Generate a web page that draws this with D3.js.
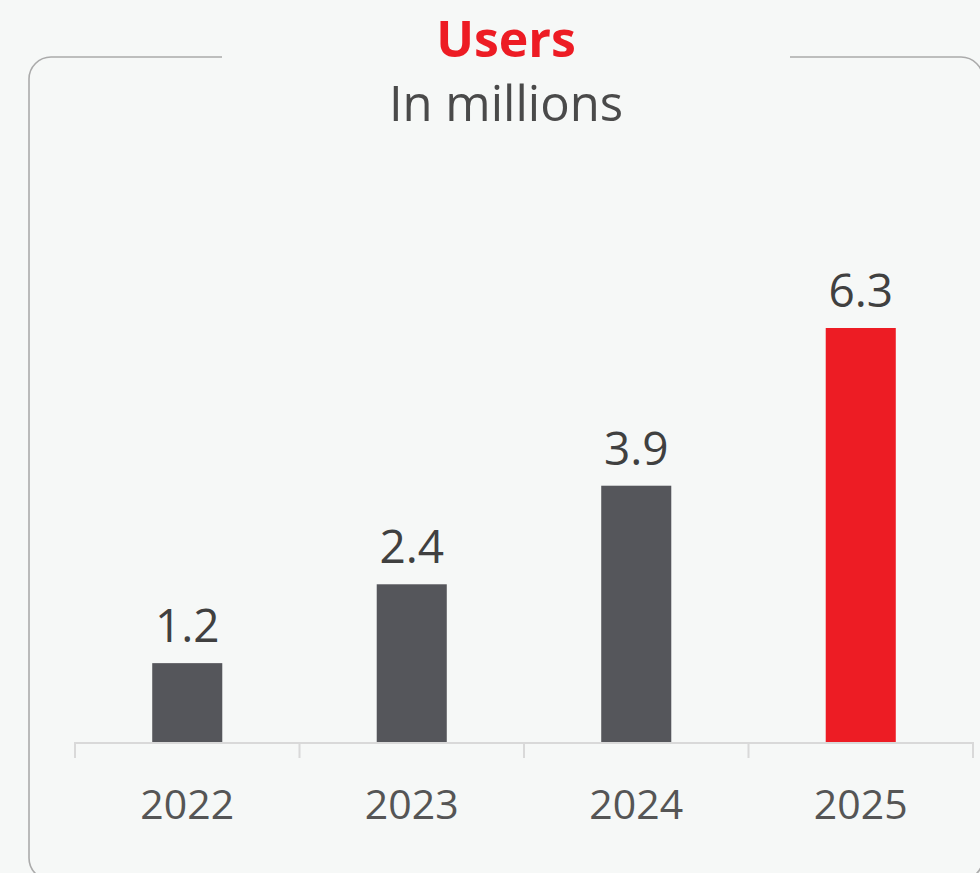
<!DOCTYPE html>
<html>
<head>
<meta charset="utf-8">
<script src="https://cdn.jsdelivr.net/npm/d3@7"></script>
<style>
  html, body { margin: 0; padding: 0; background: #f6f8f7; }
  svg { display: block; }
</style>
</head>
<body>
<svg id="chart" width="980" height="873"></svg>
<script>
// Users per year, in millions
const years = ["2022", "2023", "2024", "2025"];
const users = [1.2, 2.4, 3.9, 6.3];
const barColors = ["#55565b", "#55565b", "#55565b", "#ed1c24"];
const titleText = "Users";
const subtitleText = "In millions";

const W = 980, H = 873;
const svg = d3.select("#chart");
const font = "'Open Sans', 'Noto Sans', sans-serif";

// Rounded frame with a gap in the top edge for the title
const frame = { left: 29, top: 57, right: 983, bottom: 880, r: 22, gapL: 222, gapR: 790 };
const fp = d3.path();
fp.moveTo(frame.gapL, frame.top);
fp.lineTo(frame.left + frame.r, frame.top);
fp.arcTo(frame.left, frame.top, frame.left, frame.top + frame.r, frame.r);
fp.lineTo(frame.left, frame.bottom - frame.r);
fp.arcTo(frame.left, frame.bottom, frame.left + frame.r, frame.bottom, frame.r);
fp.lineTo(frame.right - frame.r, frame.bottom);
fp.arcTo(frame.right, frame.bottom, frame.right, frame.bottom - frame.r, frame.r);
fp.lineTo(frame.right, frame.top + frame.r);
fp.arcTo(frame.right, frame.top, frame.right - frame.r, frame.top, frame.r);
fp.lineTo(frame.gapR, frame.top);
svg.append("path")
  .attr("d", fp.toString())
  .attr("fill", "none")
  .attr("stroke", "#ababab")
  .attr("stroke-width", 1.6);

// Title
const cx = (frame.gapL + frame.gapR) / 2;
svg.append("text")
  .attr("x", cx).attr("y", 57)
  .attr("text-anchor", "middle")
  .attr("font-family", font)
  .attr("font-weight", 700)
  .attr("font-size", 50)
  .attr("fill", "#ed1c24")
  .text(titleText);
svg.append("text")
  .attr("x", cx).attr("y", 121)
  .attr("text-anchor", "middle")
  .attr("font-family", font)
  .attr("font-size", 49)
  .attr("fill", "#4a4a4a")
  .text(subtitleText);

// Scales
const plot = { left: 75, right: 973, base: 742 };
const x = d3.scaleBand()
  .domain(years)
  .range([plot.left, plot.right])
  .paddingInner(0.688)
  .paddingOuter(0.344);
const y = d3.scaleLinear()
  .domain([0, 6.3])
  .range([plot.base, 328]);

// Axis line with category dividers
const g = svg.append("g");
const dividers = d3.range(years.length + 1).map(i => plot.left + i * (plot.right - plot.left) / years.length);
g.append("line")
  .attr("x1", plot.left).attr("x2", plot.right)
  .attr("y1", plot.base + 1).attr("y2", plot.base + 1)
  .attr("stroke", "#d9d9d9").attr("stroke-width", 2);
g.selectAll("line.div")
  .data(dividers)
  .join("line")
  .attr("class", "div")
  .attr("x1", d => d).attr("x2", d => d)
  .attr("y1", plot.base).attr("y2", plot.base + 16)
  .attr("stroke", "#d9d9d9").attr("stroke-width", 2);

// Bars
const data = years.map((yr, i) => ({ yr, v: users[i], c: barColors[i] }));
g.selectAll("rect.bar")
  .data(data)
  .join("rect")
  .attr("class", "bar")
  .attr("x", d => x(d.yr))
  .attr("width", x.bandwidth())
  .attr("y", d => y(d.v))
  .attr("height", d => y(0) - y(d.v))
  .attr("fill", d => d.c);

// Value labels
g.selectAll("text.val")
  .data(data)
  .join("text")
  .attr("class", "val")
  .attr("x", d => x(d.yr) + x.bandwidth() / 2)
  .attr("y", d => y(d.v) - 21)
  .attr("text-anchor", "middle")
  .attr("font-family", font)
  .attr("font-size", 46)
  .attr("fill", "#404040")
  .text(d => d3.format(".1f")(d.v));

// Year labels
g.selectAll("text.yr")
  .data(data)
  .join("text")
  .attr("class", "yr")
  .attr("x", d => x(d.yr) + x.bandwidth() / 2)
  .attr("y", 819)
  .attr("text-anchor", "middle")
  .attr("font-family", font)
  .attr("font-size", 41)
  .attr("fill", "#555555")
  .text(d => d.yr);
</script>
</body>
</html>
